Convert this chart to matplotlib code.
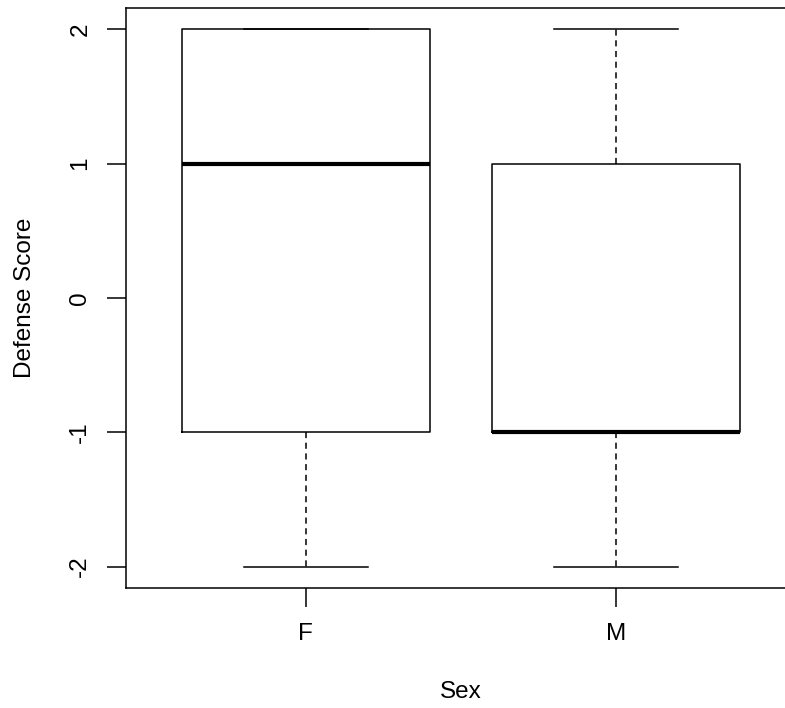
import matplotlib
matplotlib.use("Agg")
import matplotlib.pyplot as plt

categories = ["F", "M"]
whislo = [-2, -2]
q1 = [-1, -1]
med = [1, -1]
q3 = [2, 1]
whishi = [2, 2]

plt.rcParams['font.family'] = ['Liberation Sans', 'DejaVu Sans']

fig = plt.figure(figsize=(7.85, 7.08), dpi=100)
ax = fig.add_axes([126/785, 1-588/708, (796-126)/785, (588-8)/708])

stats = [dict(label=c, whislo=a, q1=b, med=m, q3=d, whishi=e, fliers=[])
         for c, a, b, m, d, e in zip(categories, whislo, q1, med, q3, whishi)]
ax.bxp(stats, positions=[1, 2], widths=0.8, showfliers=False, patch_artist=False,
       boxprops=dict(color='black', linewidth=1.1),
       medianprops=dict(color='black', linewidth=3),
       whiskerprops=dict(color='black', linewidth=1.1, linestyle=(0, (4, 3))),
       capprops=dict(color='black', linewidth=1.1),
       capwidths=0.4)

ax.set_xlim(0.42, 2.58)
ax.set_ylim(-2.16, 2.16)
ax.set_yticks([-2, -1, 0, 1, 2])
ax.set_yticklabels(["-2", "-1", "0", "1", "2"], rotation=90, va='center')
ax.set_xticks([1, 2])
ax.set_xticklabels(categories)
ax.tick_params(length=14, width=1.1, labelsize=17.5, colors='black')
ax.tick_params(axis='x', pad=11)
ax.tick_params(axis='y', pad=11)
for s in ax.spines.values():
    s.set_linewidth(1.1)
ax.set_ylabel("Defense Score", fontsize=17.5, va='center')
ax.set_xlabel("Sex", fontsize=17.5, va='center')
ax.yaxis.set_label_coords((25-126)/670, 0.5)
ax.xaxis.set_label_coords((461-126)/670, (588-692)/580)

fig.savefig("out.png", dpi=100)
